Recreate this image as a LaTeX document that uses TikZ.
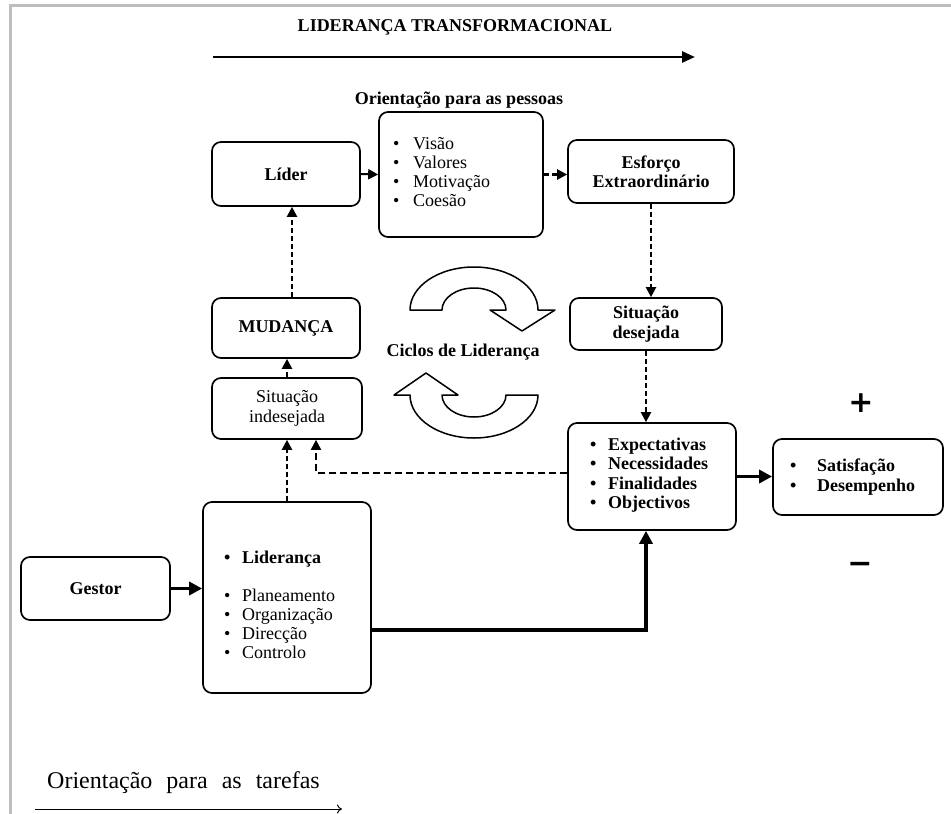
\documentclass[tikz,border=0pt]{standalone}
\usepackage{fontspec}
\setmainfont{Liberation Serif}
\newfontfamily\symfont{DejaVu Sans}
\usetikzlibrary{arrows.meta}
\newcommand\fsz{\fontsize{18}{19.5}\selectfont}
\newcommand\bl[1]{\makebox[#1pt][l]{\textbullet}}
\definecolor{framegrey}{RGB}{190,190,190}
\begin{document}
\begin{tikzpicture}[x=1pt,y=-1pt,
  box/.style={draw,line width=1.7pt,rounded corners=9pt,inner sep=0pt,align=center,font=\fsz},
  lst/.style={inner sep=0pt,anchor=base west,font=\fsz},
  dsh/.style={line width=2.2pt,dash pattern=on 5pt off 3pt,-{Triangle[length=10pt,width=10pt]}},
  dshh/.style={line width=1.9pt,dash pattern=on 7pt off 4pt,-{Triangle[length=10pt,width=10pt]}},
  thk/.style={line width=3.6pt,-{Triangle[length=13pt,width=13pt]}},
  sol/.style={line width=2pt,-{Triangle[length=10pt,width=10pt]}},
  cyc/.style={draw,fill=white,line width=1.5pt,line join=round}]
\useasboundingbox (0,0) rectangle (951,814);
\fill[white] (0,0) rectangle (951,814);
% frame
\draw[framegrey,line width=3pt] (10,814) -- (10,5.5) -- (951,5.5);

% titles
\node[inner sep=0pt,anchor=base,font=\fsz\bfseries] (title) at (455,31) {LIDERANÇA TRANSFORMACIONAL};
\coordinate (ta1) at (213,57);
\coordinate (ta2) at (695,57);
\draw[line width=2.5pt,-{Triangle[length=13pt,width=11pt]}] (ta1) -- (ta2);
\node[inner sep=0pt,anchor=base,font=\fsz\bfseries] (pessoas) at (459,104) {Orientação para as pessoas};

% boxes
\node[box,minimum width=148pt,minimum height=64pt,font=\fsz\bfseries] (lider) at (286,174) {Líder};
\node[box,minimum width=164pt,minimum height=125pt] (valores) at (461,174.5) {};
\node[box,minimum width=166pt,minimum height=63pt,font=\fsz\bfseries] (esforco) at (651,171.5) {Esforço\\Extraordinário};
\node[box,minimum width=152pt,minimum height=52pt,font=\fsz\bfseries] (desejada) at (646,324) {Situação\\desejada};
\node[box,minimum width=148pt,minimum height=60pt,font=\fsz\bfseries] (mudanca) at (286,328) {MUDANÇA};
\node[box,minimum width=150pt,minimum height=61pt] (indesejada) at (287,408.5) {Situação\\indesejada};
\node[box,minimum width=168pt,minimum height=107pt] (expect) at (652,476.5) {};
\node[box,minimum width=170pt,minimum height=76pt] (satisf) at (858,477) {};
\node[box,minimum width=149pt,minimum height=63pt,font=\fsz\bfseries] (gestor) at (95.5,588.5) {Gestor};
\node[box,minimum width=168pt,minimum height=191pt] (lidbox) at (287,597.5) {};

% lists
\foreach \t [count=\i] in {Visão,Valores,Motivação,Coesão}
  \node[lst] (vis\i) at (393,{149+19*(\i-1)}) {\bl{20}\t};
\foreach \t [count=\i] in {Expectativas,Necessidades,Finalidades,Objectivos}
  \node[lst,font=\fsz\bfseries] (exp\i) at (590,{450+19.6*(\i-1)}) {\bl{18}\t};
\foreach \t [count=\i] in {Satisfação,Desempenho}
  \node[lst,font=\fsz\bfseries] (sat\i) at (790,{471+20*(\i-1)}) {\bl{27}\t};
\node[lst,font=\fsz\bfseries] (lid0) at (224,563) {\bl{18}Liderança};
\foreach \t [count=\i] in {Planeamento,Organização,Direcção,Controlo}
  \node[lst] (pl\i) at (224,{601+19.3*(\i-1)}) {\bl{18}\t};

% cycle
\node[inner sep=0pt,anchor=base,font=\fsz\bfseries] (ciclos) at (463,356) {Ciclos de Liderança};
\path[cyc] (410,310) arc[start angle=180,end angle=0,x radius=64pt,y radius=43pt]
  -- (555,310) -- (522,331) -- (490,310) -- (506,310)
  arc[start angle=0,end angle=180,x radius=32pt,y radius=22pt] -- cycle;
\path[cyc] (442,395) -- (458,395) -- (426,373) -- (394,395) -- (410,395)
  arc[start angle=180,end angle=360,x radius=64pt,y radius=43pt]
  -- (506,395) arc[start angle=0,end angle=-180,x radius=32pt,y radius=22pt] -- cycle;

% plus / minus
\node[inner sep=0pt,font=\symfont\bfseries\fontsize{30}{30}\selectfont] (plus) at (861,403) {+};
\node[inner sep=0pt,font=\symfont\bfseries\fontsize{30}{30}\selectfont] (minus) at (860,568) {−};

% connectors
\draw[sol] (lider.east) -- (valores.west);
\draw[dsh] (valores.east) -- (valores.east -| esforco.west);
\draw[dsh] (esforco.south) -- (esforco.south |- desejada.north);
\draw[dsh] (desejada.south) -- (desejada.south |- expect.north);
\draw[thk] (expect.east) -- (expect.east -| satisf.west);
\coordinate (c1) at (646,630);
\draw[thk,line join=miter] (lidbox.east |- c1) -- (c1) -- (c1 |- expect.south);
\draw[thk] (gestor.east) -- (gestor.east -| lidbox.west);
\draw[dsh] (lidbox.north) -- (lidbox.north |- indesejada.south);
\coordinate (c2) at (316,473);
\draw[dshh] (expect.west |- c2) -- (c2) -- (c2 |- indesejada.south);
\draw[dsh] (indesejada.north) -- (indesejada.north |- mudanca.south);
\draw[dsh] ([xshift=6pt]mudanca.north) -- ([xshift=6pt]lider.south);

% bottom
\node[inner sep=0pt,anchor=base west,font=\fontsize{24}{24}\selectfont] (tarefas) at (47,788) {Orientação\hspace{14pt}para\hspace{14pt}as\hspace{14pt}tarefas};
\coordinate (bt1) at (35,809);
\coordinate (bt2) at (342,809);
\draw[line width=1pt,-{To[length=5pt,width=9pt]}] (bt1) -- (bt2);
\end{tikzpicture}
\end{document}
